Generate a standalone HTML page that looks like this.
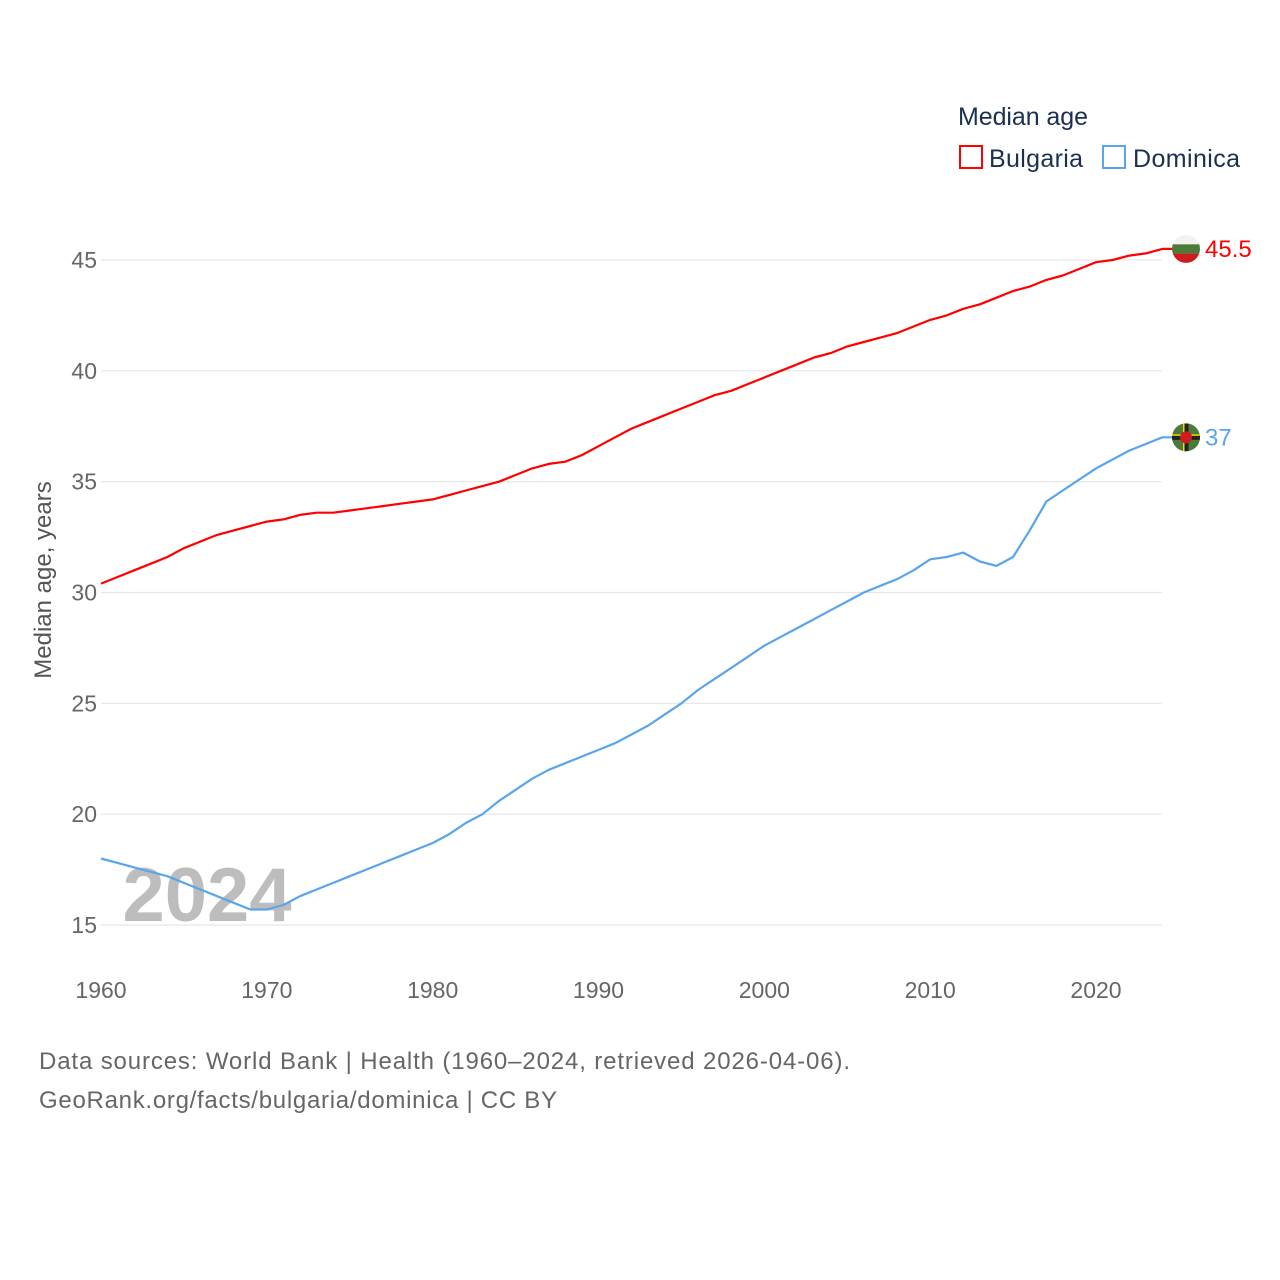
<!DOCTYPE html>
<html><head><meta charset="utf-8"><style>
body{margin:0;background:#fff;}
svg{display:block;font-family:"Liberation Sans",sans-serif;}
</style></head><body>
<svg id="chart" width="1280" height="1280" viewBox="0 0 1280 1280">
<g id="grid"></g>
<g id="yticks"></g>
<g id="xticks"></g>
<text x="207" y="921" font-size="76" font-weight="bold" fill="#bdbdbd" text-anchor="middle">2024</text>
<g id="lines"></g>
<text transform="translate(51,580) rotate(-90)" text-anchor="middle" font-size="24" fill="#555">Median age, years</text>
<text x="958" y="125" font-size="25" fill="#1a3050" textLength="130">Median age</text>
<g>
<rect x="960" y="146" width="22" height="22" fill="none" stroke="#ff0000" stroke-width="2"/>
<text x="989" y="167" font-size="25" fill="#1a3050" textLength="94">Bulgaria</text></g>
<g>
<rect x="1103" y="146" width="22" height="22" fill="none" stroke="#5aa5ea" stroke-width="2"/>
<text x="1133" y="167" font-size="25" fill="#1a3050" textLength="107">Dominica</text></g>
<g id="ends"></g>
<text x="39" y="1069" font-size="24" fill="#666" textLength="811">Data sources: World Bank | Health (1960–2024, retrieved 2026-04-06).</text>
<text x="39" y="1108" font-size="24" fill="#666" textLength="518">GeoRank.org/facts/bulgaria/dominica | CC BY</text>
</svg>
<script>
const years=[];for(let y=1960;y<=2024;y++)years.push(y);
const bulgaria=[30.4,30.7,31.0,31.3,31.6,32.0,32.3,32.6,32.8,33.0,33.2,33.3,33.5,33.6,33.6,33.7,33.8,33.9,34.0,34.1,34.2,34.4,34.6,34.8,35.0,35.3,35.6,35.8,35.9,36.2,36.6,37.0,37.4,37.7,38.0,38.3,38.6,38.9,39.1,39.4,39.7,40.0,40.3,40.6,40.8,41.1,41.3,41.5,41.7,42.0,42.3,42.5,42.8,43.0,43.3,43.6,43.8,44.1,44.3,44.6,44.9,45.0,45.2,45.3,45.5];
const dominica=[18.0,17.8,17.6,17.4,17.2,16.9,16.6,16.3,16.0,15.7,15.7,15.9,16.3,16.6,16.9,17.2,17.5,17.8,18.1,18.4,18.7,19.1,19.6,20.0,20.6,21.1,21.6,22.0,22.3,22.6,22.9,23.2,23.6,24.0,24.5,25.0,25.6,26.1,26.6,27.1,27.6,28.0,28.4,28.8,29.2,29.6,30.0,30.3,30.6,31.0,31.5,31.6,31.8,31.4,31.2,31.6,32.8,34.1,34.6,35.1,35.6,36.0,36.4,36.7,37.0];
const yTicks=[15,20,25,30,35,40,45];
const xTicks=[1960,1970,1980,1990,2000,2010,2020];
const NS='http://www.w3.org/2000/svg';
const X=y=>101+(y-1960)*(995/60);
const Y=v=>925-(v-15)*(665/30);
function mk(t,a,p){const e=document.createElementNS(NS,t);for(const k in a)e.setAttribute(k,a[k]);p.appendChild(e);return e;}
const grid=document.getElementById('grid'),yt=document.getElementById('yticks'),xt=document.getElementById('xticks');
yTicks.forEach(v=>{
 const l=mk('line',{x1:101,x2:1162,y1:Y(v),y2:Y(v),stroke:'#e6e6e6','stroke-width':1.2},grid);
 
 
 const t=mk('text',{x:97,y:Y(v)+8,'text-anchor':'end','font-size':23,fill:'#666'},yt);t.textContent=v;
 
 
});
xTicks.forEach(v=>{
 const t=mk('text',{x:X(v),y:998,'text-anchor':'middle','font-size':23,fill:'#666'},xt);t.textContent=v;
 
 
});
const lines=document.getElementById('lines'),ends=document.getElementById('ends');
[[bulgaria,'#ff0000','bulgaria'],[dominica,'#5aa5ea','dominica']].forEach(([d,c,n])=>{
 let p=d.map((v,i)=>(i?'L':'M')+X(years[i]).toFixed(1)+','+Y(v).toFixed(1)).join('');
 p+='L'+(X(2024)+10)+','+Y(d[d.length-1]).toFixed(1);
 const e=mk('path',{d:p,fill:'none',stroke:c,'stroke-width':2.2,'stroke-linejoin':'round'},lines);
 
 
 const last=d[d.length-1],cy=Y(last),cx=1186;
 const g=mk('g',{},ends);
 
 
 const cid='clip-'+n;
 const cp=mk('clipPath',{id:cid},g);mk('circle',{cx:cx,cy:cy,r:14},cp);
 const fg=mk('g',{'clip-path':'url(#'+cid+')'},g);
 if(n==='bulgaria'){
  mk('rect',{x:cx-14,y:cy-14,width:28,height:9.4,fill:'#f2f2f2'},fg);
  mk('rect',{x:cx-14,y:cy-4.6,width:28,height:9.4,fill:'#4b7a3a'},fg);
  mk('rect',{x:cx-14,y:cy+4.7,width:28,height:9.4,fill:'#d01c1f'},fg);
 }else{
  mk('rect',{x:cx-14,y:cy-14,width:28,height:28,fill:'#4b7a3a'},fg);
  mk('rect',{x:cx-14,y:cy-2.5,width:28,height:5,fill:'#222'},fg);
  mk('rect',{x:cx-2.5,y:cy-14,width:5,height:28,fill:'#222'},fg);
  mk('rect',{x:cx-14,y:cy-3,width:28,height:1.5,fill:'#f6d900'},fg);
  mk('rect',{x:cx-3,y:cy-14,width:1.5,height:28,fill:'#f6d900'},fg);
  mk('circle',{cx:cx,cy:cy,r:6,fill:'#d01c1f'},fg);
 }
 const t=mk('text',{x:1205,y:cy+8,'font-size':24,fill:c},ends);t.textContent=last;
 
 
});
</script>
</body></html>
